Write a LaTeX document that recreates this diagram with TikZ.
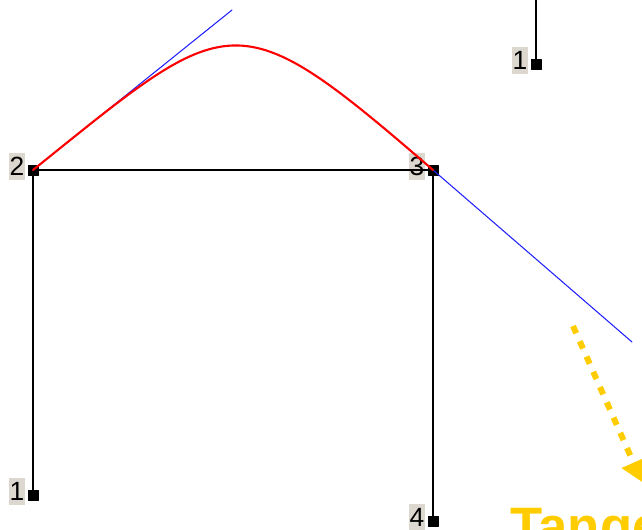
\documentclass[tikz,border=0pt]{standalone}
\usepackage{fontspec}
\setmainfont{Liberation Sans}
\usepackage{tikz}
\usetikzlibrary{arrows.meta,positioning}
\definecolor{jointgray}{HTML}{DCD8D0}
\definecolor{curvered}{HTML}{FF0000}
\definecolor{tanblue}{HTML}{2020FF}
\definecolor{callout}{HTML}{FFCC00}
\tikzset{
    every picture/.style={line cap=round,line join=round},
    joint/.style={draw=black,fill=black,rectangle,minimum size=5.6pt,inner sep=0pt,outer sep=0pt},
    jointlabel/.style={fill=jointgray,inner xsep=0.3pt,inner ysep=2.5pt,
      font=\fontsize{15}{15}\selectfont,yshift=2pt},
    member/.style={draw=black,line width=1.1pt},
    splinecurve/.style={draw=curvered,line width=1.2pt},
    tangentline/.style={draw=tanblue,line width=0.6pt},
    calloutarrow/.style={draw=callout,line width=3.4pt,line cap=butt,
      dash pattern=on 4.5pt off 5pt,-{Triangle[length=12pt,width=14pt]}},
    callouttext/.style={text=callout,font=\fontsize{30}{30}\selectfont\bfseries,
      inner sep=0pt,anchor=base west}
}

\begin{document}
\begin{tikzpicture}[x=0.02cm,y=-0.02cm]
  \useasboundingbox (0,0) rectangle (642,530);
  \clip (0,0) rectangle (642,530);
  % joints of the frame
  \node[joint] (n2) at (33,170) {};
  \node[joint] (n3) at (433,170) {};
  \node[joint] (n1) at (33,495) {};
  \node[joint] (n4) at (433,521) {};
  \node[joint] (n1top) at (536,64) {};
  \node[jointlabel,left=1.6pt of n2] (l2) {2};
  \node[jointlabel,left=1.6pt of n3] (l3) {3};
  \node[jointlabel,left=1.6pt of n1] (l1) {1};
  \node[jointlabel,left=1.6pt of n4] (l4) {4};
  \node[jointlabel,left=1.6pt of n1top] (l1top) {1};
  \coordinate (topend) at (536,0);
  % members
  \draw[member] (n2.center) -- (n3.center);
  \draw[member] (n2.center) -- (n1.center);
  \draw[member] (n3.center) -- (n4.center);
  \draw[member] (topend) -- (n1top.center);
  % tangents and curve
  \coordinate (tan2) at (232,10);
  \coordinate (tan3) at (632,342);
  \coordinate (ctl3) at (234,-2);
  \draw[tangentline] (n2.center) -- (tan2);
  \draw[tangentline] (n3.center) -- (tan3);
  \draw[splinecurve] (n2.center) .. controls (tan2) and (ctl3) .. (n3.center);
  % callout
  \coordinate (arrstart) at (573,326);
  \coordinate (arrtip) at (642,482);
  \draw[calloutarrow] (arrstart) -- (arrtip);
  \node[callouttext] (tangtext) at (510,544) {Tangent};
\end{tikzpicture}
\end{document}
